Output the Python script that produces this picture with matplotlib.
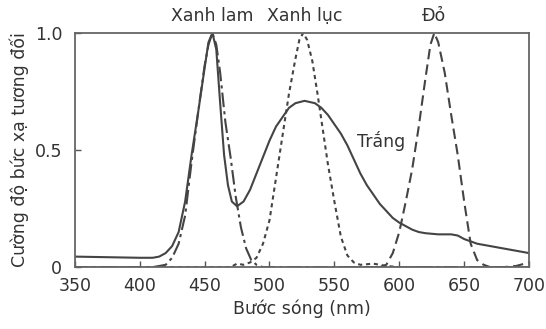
import matplotlib
matplotlib.use("Agg")
import matplotlib.pyplot as plt

# White light (solid)
white_wl = [350, 360, 370, 380, 390, 400, 410, 415, 420, 425, 430, 435, 440, 445, 450, 453, 456,
            459, 462, 465, 468, 471, 475, 480, 485, 490, 495, 500, 505, 510, 515, 520, 527, 535,
            540, 545, 550, 555, 560, 565, 570, 575, 580, 585, 590, 595, 600, 605, 610, 615, 620,
            630, 640, 645, 650, 655, 660, 670, 680, 690, 700]
white_val = [0.045, 0.044, 0.043, 0.042, 0.041, 0.040, 0.040, 0.045, 0.06, 0.09, 0.15, 0.28, 0.48,
             0.66, 0.85, 0.96, 1.0, 0.93, 0.70, 0.48, 0.35, 0.28, 0.26, 0.28, 0.33, 0.40, 0.47, 0.54,
             0.60, 0.64, 0.68, 0.70, 0.71, 0.70, 0.68, 0.65, 0.61, 0.57, 0.52, 0.46, 0.40, 0.35, 0.31,
             0.27, 0.24, 0.21, 0.19, 0.175, 0.16, 0.15, 0.145, 0.14, 0.14, 0.135, 0.12, 0.11, 0.10,
             0.09, 0.08, 0.07, 0.06]

# Blue LED (dash-dot)
blue_wl = [350, 410, 420, 425, 430, 435, 440, 445, 450, 453, 456, 459, 462, 466, 470, 474, 478,
           482, 486, 490, 495, 700]
blue_val = [0.0, 0.0, 0.01, 0.04, 0.10, 0.22, 0.45, 0.66, 0.86, 0.95, 1.0, 0.95, 0.83, 0.62, 0.47,
            0.30, 0.17, 0.08, 0.03, 0.01, 0.0, 0.0]

# Green LED (dotted)
green_wl = [350, 470, 475, 480, 485, 490, 495, 500, 505, 510, 515, 520, 523, 526, 529, 533, 537,
            541, 545, 550, 555, 560, 565, 570, 580, 590, 600, 700]
green_val = [0.0, 0.0, 0.015, 0.01, 0.02, 0.04, 0.10, 0.20, 0.38, 0.56, 0.74, 0.89, 0.97, 1.0, 0.97,
             0.88, 0.74, 0.59, 0.44, 0.28, 0.13, 0.05, 0.02, 0.01, 0.015, 0.005, 0.0, 0.0]

# Red LED (dashed)
red_wl = [560, 585, 590, 595, 600, 605, 610, 615, 620, 624, 627, 630, 635, 640, 645, 650, 655,
          660, 665, 670, 680, 690, 700]
red_val = [0.0, 0.0, 0.01, 0.06, 0.15, 0.28, 0.42, 0.60, 0.80, 0.95, 1.0, 0.96, 0.83, 0.65, 0.48,
           0.28, 0.10, 0.03, 0.01, 0.0, 0.0, 0.005, 0.02]

line_color = "#444444"
text_color = "#333333"

fig = plt.figure(figsize=(5.46, 3.29), dpi=100)
ax = fig.add_axes([0.137, 0.188, 0.832, 0.712])

ax.plot(white_wl, white_val, color=line_color, lw=1.5, linestyle="-")
ax.plot(blue_wl, blue_val, color=line_color, lw=1.5, linestyle=(0, (7, 2, 1.5, 2)))
ax.plot(green_wl, green_val, color=line_color, lw=1.5, linestyle=(0, (2, 1.8)))
ax.plot(red_wl, red_val, color=line_color, lw=1.5, linestyle=(0, (5, 2.5)))

ax.set_xlim(350, 700)
ax.set_ylim(0, 1.0)
ax.set_xticks([350, 400, 450, 500, 550, 600, 650, 700])
ax.set_yticks([0, 0.5, 1.0])
ax.set_yticklabels(["0", "0.5", "1.0"])
ax.tick_params(direction="in", length=4, width=1, colors="#555555", labelcolor=text_color,
               labelsize=12.5)
ax.tick_params(axis="x", pad=7)
ax.tick_params(axis="y", pad=9)
for s in ax.spines.values():
    s.set_color("#666666")
    s.set_linewidth(1.3)

ax.set_xlabel("Bước sóng (nm)", fontsize=12.5, color=text_color, labelpad=3)
ax.set_ylabel("Cường độ bức xạ tương đối", fontsize=12.5, color=text_color, labelpad=4)

# Peak labels above the plot
ax.text(456, 1.035, "Xanh lam", ha="center", va="bottom", fontsize=12.5, color=text_color)
ax.text(527, 1.035, "Xanh lục", ha="center", va="bottom", fontsize=12.5, color=text_color)
ax.text(627, 1.035, "Đỏ", ha="center", va="bottom", fontsize=12.5, color=text_color)
ax.text(586, 0.54, "Trắng", ha="center", va="center", fontsize=12.5, color=text_color)

fig.savefig("out.png", dpi=100)
